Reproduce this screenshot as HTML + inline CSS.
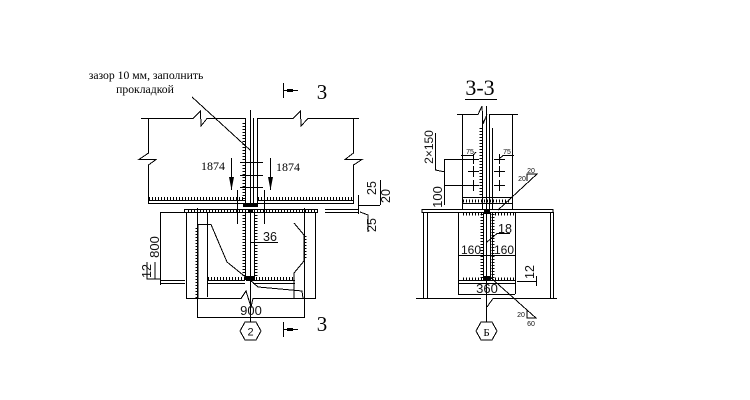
<!DOCTYPE html>
<html><head><meta charset="utf-8"><style>
html,body{margin:0;padding:0;background:#fff}
svg{display:block}
text{fill:#000}
.s{font-family:"Liberation Serif",serif}
.d{font-family:"Liberation Sans",sans-serif;fill:#111}
.t{fill:none;stroke:#000;stroke-width:3;stroke-dasharray:1 2}
</style></head><body>
<svg width="750" height="400" viewBox="0 0 750 400" xmlns="http://www.w3.org/2000/svg">
<g fill="none" stroke="#000" stroke-width="1" shape-rendering="crispEdges">
<!-- left view beam -->
<path d="M141 118.500H193L200.500 111L201 126L207 118.500H245M258 118.500H293L300.500 111L301 126L308 118.500H359"/>
<path d="M148.500 118V153L139 159.500H156L148.500 165V203.500H245M353.500 118V153L345 159.500H362L353.500 165V203.500H258"/>
<path d="M148 200.500H245M258 200.500H353"/>
<path d="M245.500 118V207M250.500 110V207M253.500 118V207M257.500 118V207"/>
<path d="M240 162.500H263M240 175.500H263M240 187.500H263M237.500 190V224M264.500 190V224"/>
<path d="M192 97L250 150"/>
<path d="M231.500 158V190M270.500 158V190"/>
<!-- section marks -->
<path d="M283.500 83V98M283.500 90.500H298M283.500 322V337M283.500 329.500H298"/>
<!-- base plate -->
<path d="M184.500 209.500H317.500V212.500H184.500Z"/>
<path d="M160 212.500H184M160.500 212.500V285M160 280.500H185M160 283.500H185"/>
<path d="M186.500 213V299M315.500 213V299M186 298.500H241L246 291L251 307L253 298.500H315"/>
<path d="M197.500 208V317M304.500 208V317M197 317.500H305M250.500 317V322"/>
<path d="M207.500 213V297M198 224.500H211L227 262L248 279M198 224V299"/>
<path d="M207 280.500H245M253 280.500H295M207 283.500H245M253 283.500H295"/>
<path d="M294 223L304 235V261L294 273V298"/>
<path d="M250 280L258 287L302 291L303 298"/>
<path d="M245.500 213V280M254.500 213V280M250.500 213V322"/>
<path d="M250 242.500H278"/>
<path d="M147 262V279H160M155 279V262"/>
<!-- right dims -->
<path d="M325 209.500H358M325 212.500H358M358.500 195V214M358 205.500H380M380.500 180V205M360 212L368 215V232"/>
<!-- hex left -->
<path d="M245 322H256L261 331L256 340H245L240 331Z"/>
<!-- right view -->
<path d="M465 99.500H497"/>
<path d="M457 114.500H478L482 106L483 124L487 114.500M489 114.500H518"/>
<path d="M462.500 114V209M512.500 114V209"/>
<path d="M482.500 114V209M486.500 106V209M489.500 114V209M492.500 128V209"/>
<path d="M462 197.500H512M462 203.500H512"/>
<path d="M444 159.500H473M444 185.500H473M444.500 159V205M435.500 133V170L445 172M468 159.500H479M468 171.500H479M468 185.500H479M494 159.500H505M494 171.500H505M494 185.500H505M473.500 154V164M473.500 166V177M473.500 180V191M499.500 154V164M499.500 166V177M499.500 180V191"/>
<path d="M461 155.500H473L476 152M499 159L503 155.500H514"/>
<path d="M498 210L537 174H527V181"/>
<path d="M422 209.500H553V212.500H422Z"/>
<path d="M423.500 212V298M427.500 212V298M550.500 212V298M553.500 212V298"/>
<path d="M416 298.500H481M493 298.500H557M487 307L493 298.500"/>
<path d="M458.500 212V294M515.500 212V294M458 280.500H515M458 283.500H515M458 255.500H515M458 294.500H515"/>
<path d="M483.500 212V280M486.500 212V322M490.500 212V280M492.500 212V280"/>
<path d="M497 233.500H510M497 233.500L487 242"/>
<path d="M517 281.500H536M536.500 276V286"/>
<path d="M490 277L527 310V318H536L527 310"/>
<path d="M481 322H492L497 331L492 340H481L476 331Z"/>
</g>
<!-- ticks -->
<path class="t" shape-rendering="crispEdges" d="M149 198.500H245M258 198.500H353M244 123V200M244 215V278M256 215V278M208 278.500H245M256 278.500H294M188 211H316M197 228V298M305 236V260M481 128V195M463 201H511M463 279H482M492 279H514M482 214V278M493 214V278M463 214H482M492 214H514"/>
<!-- arrowheads -->
<g fill="#000">
<path d="M229 177H234L231.500 190ZM268 177H273L270.500 190Z"/>
<rect x="287" y="89" width="6" height="3"/><rect x="287" y="328" width="6" height="3"/>
<rect x="248" y="209" width="5" height="4"/><rect x="243" y="203" width="15" height="4"/>
<rect x="246" y="276" width="8" height="5"/>
<rect x="484" y="276" width="6" height="5"/><rect x="484" y="210" width="6" height="4"/>
</g>
<!-- text -->
<text class="s" x="146" y="79" font-size="11.700" text-anchor="middle">зазор 10 мм, заполнить</text>
<text class="s" x="145" y="93" font-size="11.700" text-anchor="middle">прокладкой</text>
<text class="s" x="322" y="99" font-size="21" text-anchor="middle">3</text>
<text class="s" x="322" y="331" font-size="21" text-anchor="middle">3</text>
<text class="s" x="213" y="170" font-size="12" text-anchor="middle">1874</text>
<text class="s" x="288" y="171" font-size="12" text-anchor="middle">1874</text>
<text class="d" font-size="12.500" x="270" y="241" text-anchor="middle">36</text>
<text class="d" font-size="13" x="251" y="315" text-anchor="middle">900</text>
<text class="d" x="250.500" y="335.500" text-anchor="middle" font-size="11">2</text>
<text class="d" font-size="13" transform="translate(159,247) rotate(-90)" text-anchor="middle">800</text>
<text class="d" font-size="12.500" transform="translate(151,271) rotate(-90)" text-anchor="middle">12</text>
<text class="d" font-size="12.500" transform="translate(376,188) rotate(-90)" text-anchor="middle">25</text>
<text class="d" font-size="12.500" transform="translate(390,196) rotate(-90)" text-anchor="middle">20</text>
<text class="d" font-size="12.500" transform="translate(376,225) rotate(-90)" text-anchor="middle">25</text>
<text class="s" x="480" y="95" font-size="22" text-anchor="middle">3-3</text>
<text class="d" transform="translate(433,147) rotate(-90)" text-anchor="middle" font-size="12">2×150</text>
<text class="d" font-size="13" transform="translate(442,197) rotate(-90)" text-anchor="middle">100</text>
<text class="d" x="470" y="154" text-anchor="middle" font-size="7">75</text>
<text class="d" x="507" y="154" text-anchor="middle" font-size="7">75</text>
<text class="d" x="531" y="173" text-anchor="middle" font-size="7">20</text>
<text class="d" x="522" y="181" text-anchor="middle" font-size="7">20</text>
<text class="d" font-size="12.500" x="505" y="233" text-anchor="middle">18</text>
<text class="d" font-size="12" x="471" y="254" text-anchor="middle">160</text>
<text class="d" font-size="12" x="504" y="254" text-anchor="middle">160</text>
<text class="d" font-size="13" x="487" y="293" text-anchor="middle">360</text>
<text class="d" font-size="12.500" transform="translate(534,272) rotate(-90)" text-anchor="middle">12</text>
<text class="d" x="521" y="317" text-anchor="middle" font-size="7">20</text>
<text class="d" x="531" y="326" text-anchor="middle" font-size="7">60</text>
<text class="s" x="486.500" y="336" text-anchor="middle" font-size="11">Б</text>
</svg>
</body></html>
